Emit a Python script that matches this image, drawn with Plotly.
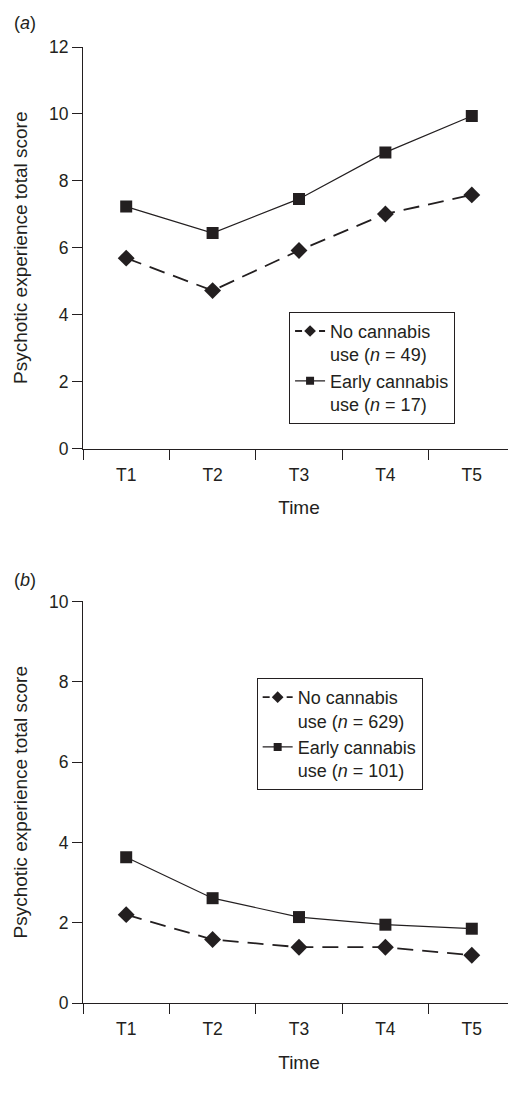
import plotly.graph_objects as go
from plotly.subplots import make_subplots

times = ["T1", "T2", "T3", "T4", "T5"]
time_pos = list(range(1, len(times) + 1))  # category positions on the axis

# Panel (a)
a_no = [5.69, 4.72, 5.92, 7.01, 7.58]
a_early = [7.23, 6.44, 7.46, 8.85, 9.94]
a_names = ["No cannabis<br>use (<i>n</i> = 49)", "Early cannabis<br>use (<i>n</i> = 17)"]

# Panel (b)
b_no = [2.20, 1.58, 1.39, 1.39, 1.19]
b_early = [3.63, 2.61, 2.14, 1.95, 1.85]
b_names = ["No cannabis<br>use (<i>n</i> = 629)", "Early cannabis<br>use (<i>n</i> = 101)"]

INK = "#231f20"
FONT = "Liberation Sans, Arial, sans-serif"

fig = make_subplots(rows=2, cols=1, vertical_spacing=0.16)

def add_panel(row, no, early, names, legend):
    # data traces
    fig.add_trace(go.Scatter(x=time_pos, y=no, mode="lines+markers", text=times,
                             line=dict(color=INK, width=1.8, dash="16px,9px"),
                             marker=dict(symbol="diamond", size=13, color=INK),
                             showlegend=False, hoverinfo="text+y"), row=row, col=1)
    fig.add_trace(go.Scatter(x=time_pos, y=early, mode="lines+markers", text=times,
                             line=dict(color=INK, width=1.2),
                             marker=dict(symbol="square", size=12, color=INK),
                             showlegend=False, hoverinfo="text+y"), row=row, col=1)
    # legend entries (smaller symbols as in the original key)
    fig.add_trace(go.Scatter(x=[None], y=[None], mode="lines+markers", name=names[0],
                             line=dict(color=INK, width=1.8, dash="7px,5px"),
                             marker=dict(symbol="diamond", size=9, color=INK),
                             legend=legend), row=row, col=1)
    fig.add_trace(go.Scatter(x=[None], y=[None], mode="lines+markers", name=names[1],
                             line=dict(color=INK, width=1.2),
                             marker=dict(symbol="square", size=8, color=INK),
                             legend=legend), row=row, col=1)

add_panel(1, a_no, a_early, a_names, "legend")
add_panel(2, b_no, b_early, b_names, "legend2")

base = dict(showline=True, linecolor=INK, linewidth=1.2, showgrid=False,
            zeroline=False, automargin=False,
            tickfont=dict(size=17.5, color=INK, family=FONT))

for r in (1, 2):
    fig.update_xaxes(range=[0.5, len(times) + 0.5],
                     tickmode="array", tickvals=time_pos, ticktext=times,
                     ticks="outside", ticklen=10, tickcolor="rgba(0,0,0,0)",
                     minor=dict(ticks="outside", ticklen=10, tickwidth=1.2, tickcolor=INK,
                                tick0=0.5, dtick=1, showgrid=False),
                     title=dict(text="Time", font=dict(size=19, color=INK, family=FONT), standoff=17),
                     row=r, col=1, **base)

fig.update_yaxes(ticks="outside", ticklen=10, tickwidth=1.2, tickcolor=INK, **base)
fig.update_yaxes(range=[0, 12], tickvals=[0, 2, 4, 6, 8, 10, 12], row=1, col=1)
fig.update_yaxes(range=[0, 10], tickvals=[0, 2, 4, 6, 8, 10], row=2, col=1)
fig.update_yaxes(title=dict(text="Psychotic experience total score",
                            font=dict(size=19, color=INK, family=FONT), standoff=16))

# page body has an 8px default margin, so the figure is sized to fit the window
fig.update_layout(
    width=508, height=1102,
    margin=dict(l=75, r=1, t=39, b=107),
    paper_bgcolor="white", plot_bgcolor="white",
    font=dict(family=FONT, color=INK),
    hovermode="closest",
    xaxis=dict(domain=[0, 1]),
    yaxis=dict(domain=[0.580, 1.0]),
    yaxis2=dict(domain=[0.0, 0.420]),
    legend=dict(x=0.477, y=0.723, xanchor="left", yanchor="top",
                bordercolor=INK, borderwidth=1, bgcolor="white",
                valign="top", font=dict(size=18, color=INK, family=FONT)),
    legend2=dict(x=0.402, y=0.340, xanchor="left", yanchor="top",
                 bordercolor=INK, borderwidth=1, bgcolor="white",
                 valign="top", font=dict(size=18, color=INK, family=FONT)),
    annotations=[
        dict(text="(<i>a</i>)", xref="paper", yref="paper", x=-0.165, y=1.025,
             xanchor="left", yanchor="middle", showarrow=False,
             font=dict(size=18, color=INK, family=FONT)),
        dict(text="(<i>b</i>)", xref="paper", yref="paper", x=-0.165, y=0.4425,
             xanchor="left", yanchor="middle", showarrow=False,
             font=dict(size=18, color=INK, family=FONT)),
    ],
)

fig.write_html("out.html")
